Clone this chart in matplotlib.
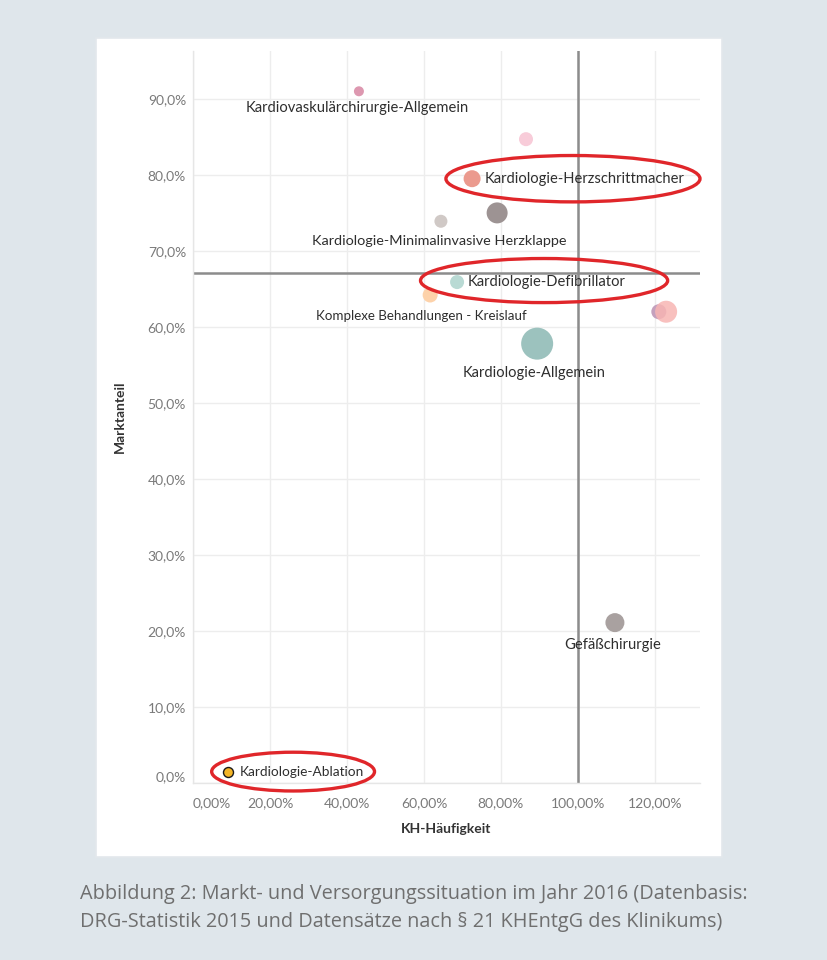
import matplotlib
matplotlib.use("Agg")
import matplotlib.pyplot as plt
from matplotlib.patches import Rectangle, Ellipse

# ---------------- data ----------------
names = [
    "Kardiovaskulärchirurgie-Allgemein",
    "Pink (ohne Label)",
    "Kardiologie-Herzschrittmacher",
    "Kardiologie-Minimalinvasive Herzklappe",
    "Grau (ohne Label)",
    "Kardiologie-Defibrillator",
    "Komplexe Behandlungen - Kreislauf",
    "Violett (ohne Label)",
    "Rosa (ohne Label)",
    "Kardiologie-Allgemein",
    "Gefäßchirurgie",
    "Kardiologie-Ablation",
]
kh_haeufigkeit = [43.1, 86.5, 72.5, 64.4, 79.0, 68.6, 61.6, 121.0, 122.9, 89.4, 109.6, 9.1]
marktanteil = [91.0, 84.7, 79.5, 73.9, 75.0, 65.9, 64.2, 62.0, 62.0, 57.8, 21.1, 1.4]
groesse = [10, 14, 17, 13, 21, 14, 15, 15, 22, 32, 19, 10]   # Ø in px
farben = ["#dd98b0", "#f8ccd9", "#eb9a8e", "#d0c9c6", "#9d9393", "#b9dad4",
          "#fdd2aa", "#c4a0bd", "#f7b5b3", "#9cc2be", "#a9a1a0", "#f3b527"]
alphas = [1, 1, 1, 1, 1, 1, 1, 1, 0.85, 1, 1, 1]
# label: (dx px, dy px, ha, fontsize) or None
label_show = [True, False, True, True, False, True, True, False, False, True, True, True]
label_pos = [(-2, -17, "center", 10.6), None, (13, 0, "left", 10.6), (-2, -20, "center", 10.4), None,
             (11, 0, "left", 10.6), (-9, -21, "center", 9.6), None, None, (-3, -29, "center", 10.5),
             (-2, -22, "center", 10.6), (12, 0, "left", 9.8)]

x_ticks = [0, 20, 40, 60, 80, 100, 120]
x_ticklabels = ["0,00%", "20,00%", "40,00%", "60,00%", "80,00%", "100,00%", "120,00%"]
y_ticks = [0, 10, 20, 30, 40, 50, 60, 70, 80, 90]
y_ticklabels = ["0,0%", "10,0%", "20,0%", "30,0%", "40,0%", "50,0%", "60,0%", "70,0%", "80,0%", "90,0%"]
ref_x = 100.0
ref_y = 67.1
# highlight ellipses: (center x, center y, width, height) in data units
ellipsen = [(98.7, 79.5, 66.0, 6.1), (91.2, 66.1, 64.2, 5.8), (26.0, 1.5, 42.3, 5.1)]

caption = ("Abbildung 2: Markt- und Versorgungssituation im Jahr 2016 (Datenbasis:\n"
           "DRG-Statistik 2015 und Datensätze nach § 21 KHEntgG des Klinikums)")

# ---------------- figure ----------------
W, H = 827, 960
plt.rcParams['font.family'] = ['Lato', 'DejaVu Sans']
fig = plt.figure(figsize=(W / 100, H / 100), dpi=100, facecolor="#dfe6eb")

# white panel
fig.patches.append(Rectangle((96 / W, 1 - 857 / H), 626 / W, 819 / H, transform=fig.transFigure,
                             facecolor="white", edgecolor="#e3e8ec", lw=1.2, zorder=-5))

ax = fig.add_axes([193 / W, 1 - 783 / H, (700 - 193) / W, (783 - 51) / H])
ax.set_zorder(2)
ax.set_facecolor("white")
ax.set_xlim(0, 131.7)
ax.set_ylim(0, 96.3)
for s in ["top", "right"]:
    ax.spines[s].set_visible(False)
for s in ["left", "bottom"]:
    ax.spines[s].set_color("#e6e6e6")
    ax.spines[s].set_linewidth(1.0)
ax.set_xticks(x_ticks)
ax.set_xticklabels(x_ticklabels)
ax.set_yticks(y_ticks)
ax.set_yticklabels(y_ticklabels)
ax.tick_params(axis="both", length=0, colors="#7a7a7a", labelsize=10)
ax.tick_params(axis="x", pad=10)
ax.tick_params(axis="y", pad=5)
ax.grid(True, color="#ededed", lw=1.0)
ax.set_axisbelow(True)

# edge tick labels like the reference
xl = ax.get_xticklabels()
xl[0].set_horizontalalignment("left")
yl = ax.get_yticklabels()
yl[0].set_verticalalignment("bottom")

ax.axvline(ref_x, color="#8c8c8c", lw=1.8, zorder=1)
ax.axhline(ref_y, color="#8c8c8c", lw=1.8, zorder=1)

for i in range(len(names)):
    ec = "#1a1a1a" if i == len(names) - 1 else "none"
    lw = 1.0 if i == len(names) - 1 else 0
    ax.scatter(kh_haeufigkeit[i], marktanteil[i], s=(groesse[i] * 0.72) ** 2, color=farben[i],
               alpha=alphas[i], edgecolors=ec, linewidths=lw, zorder=3)
    if label_show[i]:
        dx, dy, ha, fs = label_pos[i]
        ax.annotate(names[i], (kh_haeufigkeit[i], marktanteil[i]), xytext=(dx * 0.72, dy * 0.72),
                    textcoords="offset points", ha=ha, va="center", fontsize=fs,
                    color="#2e2e2e", zorder=4)

for cx, cy, w, h in ellipsen:
    ax.add_patch(Ellipse((cx, cy), w, h, facecolor="none", edgecolor="#e0262a", lw=2.4,
                         zorder=5, clip_on=False))

ax.set_xlabel("KH-Häufigkeit", fontsize=10, fontweight="bold", color="#333333", labelpad=10)
ax.set_ylabel("Marktanteil", fontsize=10, fontweight="bold", color="#333333", labelpad=16)

fig.text(80 / W, 1 - 908 / H, caption, fontsize=14.3, color="#6f6f6f", va="center", ha="left",
         linespacing=1.6, family=["Open Sans", "DejaVu Sans"])

fig.savefig("out.png", dpi=100, facecolor=fig.get_facecolor())
